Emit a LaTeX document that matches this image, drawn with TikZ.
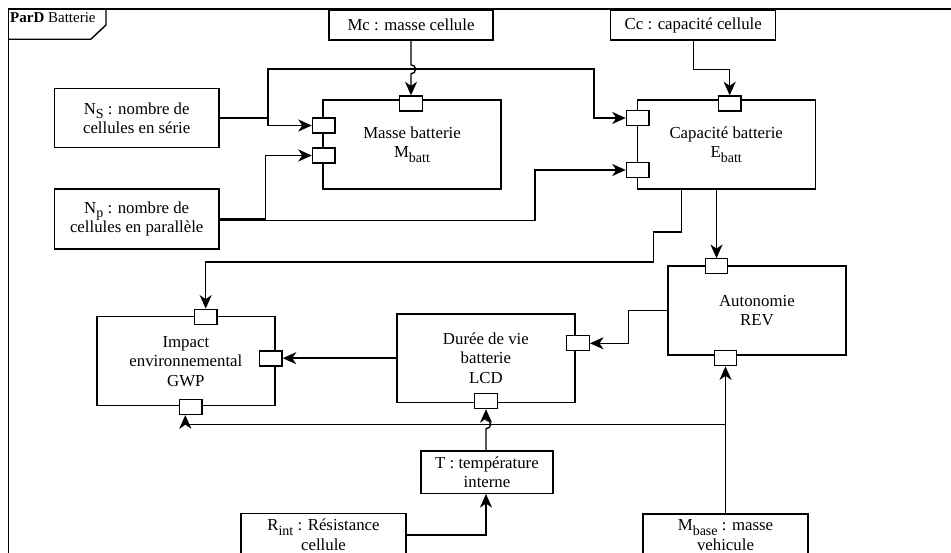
\documentclass[tikz,border=0pt]{standalone}
\usepackage{fontspec}
\setmainfont{Liberation Serif}
\usetikzlibrary{arrows.meta,calc}
\newcommand{\lsub}[1]{\raisebox{-0.28em}{\fontsize{14}{14}\selectfont #1}}
\newcommand{\nfont}{\fontsize{16.8}{19.5}\selectfont}
\newcommand{\hfont}{\fontsize{15}{18}\selectfont}
\begin{document}
\begin{tikzpicture}[x=1pt,y=-1pt,line width=1.4pt,
  blk/.style={draw, minimum width=178pt, minimum height=89pt, align=center, inner sep=0pt, font=\nfont},
  inp/.style={draw, align=center, inner sep=0pt, font=\nfont},
  port/.style={draw, fill=white, minimum width=22.5pt, minimum height=15pt, inner sep=0pt},
  arr/.style={-{Stealth[length=13.5pt,width=12pt,inset=4pt]}}]
\useasboundingbox (0,0) rectangle (951,553);
\clip (0,0) rectangle (951,553);
% frame
\draw (8.5,560) -- (8.5,9) -- (960,9);
\draw (106,9) -- (106,25) -- (90.7,39.3) -- (8.5,39.3);
\node[anchor=base west, inner sep=0pt, font=\hfont] (title) at (9.5,23) {\textbf{ParD} Batterie};
% inputs
\node[inp, minimum width=164pt, minimum height=30pt] (mc) at (411,25) {Mc : masse cellule};
\node[inp, minimum width=165pt, minimum height=30pt] (cc) at (693.2,25) {Cc : capacité cellule};
\node[inp, minimum width=164.7pt, minimum height=59pt] (ns) at (136.7,118.2) {N\lsub{S} : nombre de\\cellules en série};
\node[inp, minimum width=164.7pt, minimum height=60pt] (np) at (136.7,219) {N\lsub{p} : nombre de\\cellules en parallèle};
\node[inp, minimum width=132pt, minimum height=42.3pt] (t) at (487,472.2) {T : température\\interne};
\node[inp, minimum width=165pt, minimum height=43pt] (rint) at (323.5,534.8) {R\lsub{int} : Résistance\\cellule};
\node[inp, minimum width=165pt, minimum height=42pt] (mbase) at (725.5,535) {M\lsub{base} : masse\\vehicule};
% blocks
\node[blk] (masse) at (412,144.7) {Masse batterie\\M\lsub{batt}};
\node[blk] (cap) at (726.2,144.7) {Capacité batterie\\E\lsub{batt}};
\node[blk] (auto) at (756.9,310.7) {Autonomie\\REV};
\node[blk, minimum height=88.3pt] (duree) at (485.9,358.2) {Durée de vie\\batterie\\LCD};
\node[blk] (impact) at (185.9,361.2) {Impact\\environnemental\\GWP};
% ports
\node[port] (mpt) at (411,103.5) {};
\node[port] (mpl1) at (323.7,125.5) {};
\node[port] (mpl2) at (323.7,155.5) {};
\node[port] (cpt) at (729.7,103.5) {};
\node[port] (cpl1) at (637.7,118) {};
\node[port] (cpl2) at (637.7,170) {};
\node[port] (apt) at (716.5,266.3) {};
\node[port] (apb) at (725.5,358.2) {};
\node[port] (dpr) at (578,343.3) {};
\node[port] (dpb) at (486,401) {};
\node[port] (ipt) at (205.7,316.8) {};
\node[port] (ipr) at (270.8,358.5) {};
\node[port] (ipb) at (190.8,407) {};
% junctions
\coordinate (nsj) at (268,118.2);
\coordinate (npj) at (265.7,219);
\coordinate (jm) at (725.5,424.3);
% connectors
\draw[arr] (mc.south) -- (411,64.8) .. controls (417,64.8) and (417,73.8) .. (411,73.8) -- (mpt.north);
\draw[arr] (ns.east) -- (nsj) |- (594,69) |- (cpl1.west);
\draw[arr] (nsj) |- (mpl1.west);
\draw[arr] (np.east) -- (npj) |- (mpl2.west);
\draw[arr] ($(np.east)+(0,1.6)$) -- (535,220.6) |- (cpl2.west);
\draw[arr] (cc.south) -- ++(0,29) -| (cpt.north);
\draw[arr] (apt.north |- cap.south) -- (apt.north);
\draw[arr] (cap.south -| 681.7,0) -- (681.7,232) -- (653.3,232) -- (653.3,262) -| (ipt.north);
\draw[arr] (auto.west) -- (628.7,310.7) |- (dpr.east);
\draw[arr] (duree.west) -- (duree.west -| ipr.east);
\draw[arr] (dpb.south |- t.north) -- (486,428.8) .. controls (492,428.8) and (492,419.8) .. (486,419.8) -- (dpb.south);
\draw[arr] (rint.east) -| (dpb.south |- t.south);
\draw[arr] (mbase.north) -- (apb.south);
\draw[arr] (jm) -| ($(ipb.south)+(-5.5,0)$);
\end{tikzpicture}
\end{document}
